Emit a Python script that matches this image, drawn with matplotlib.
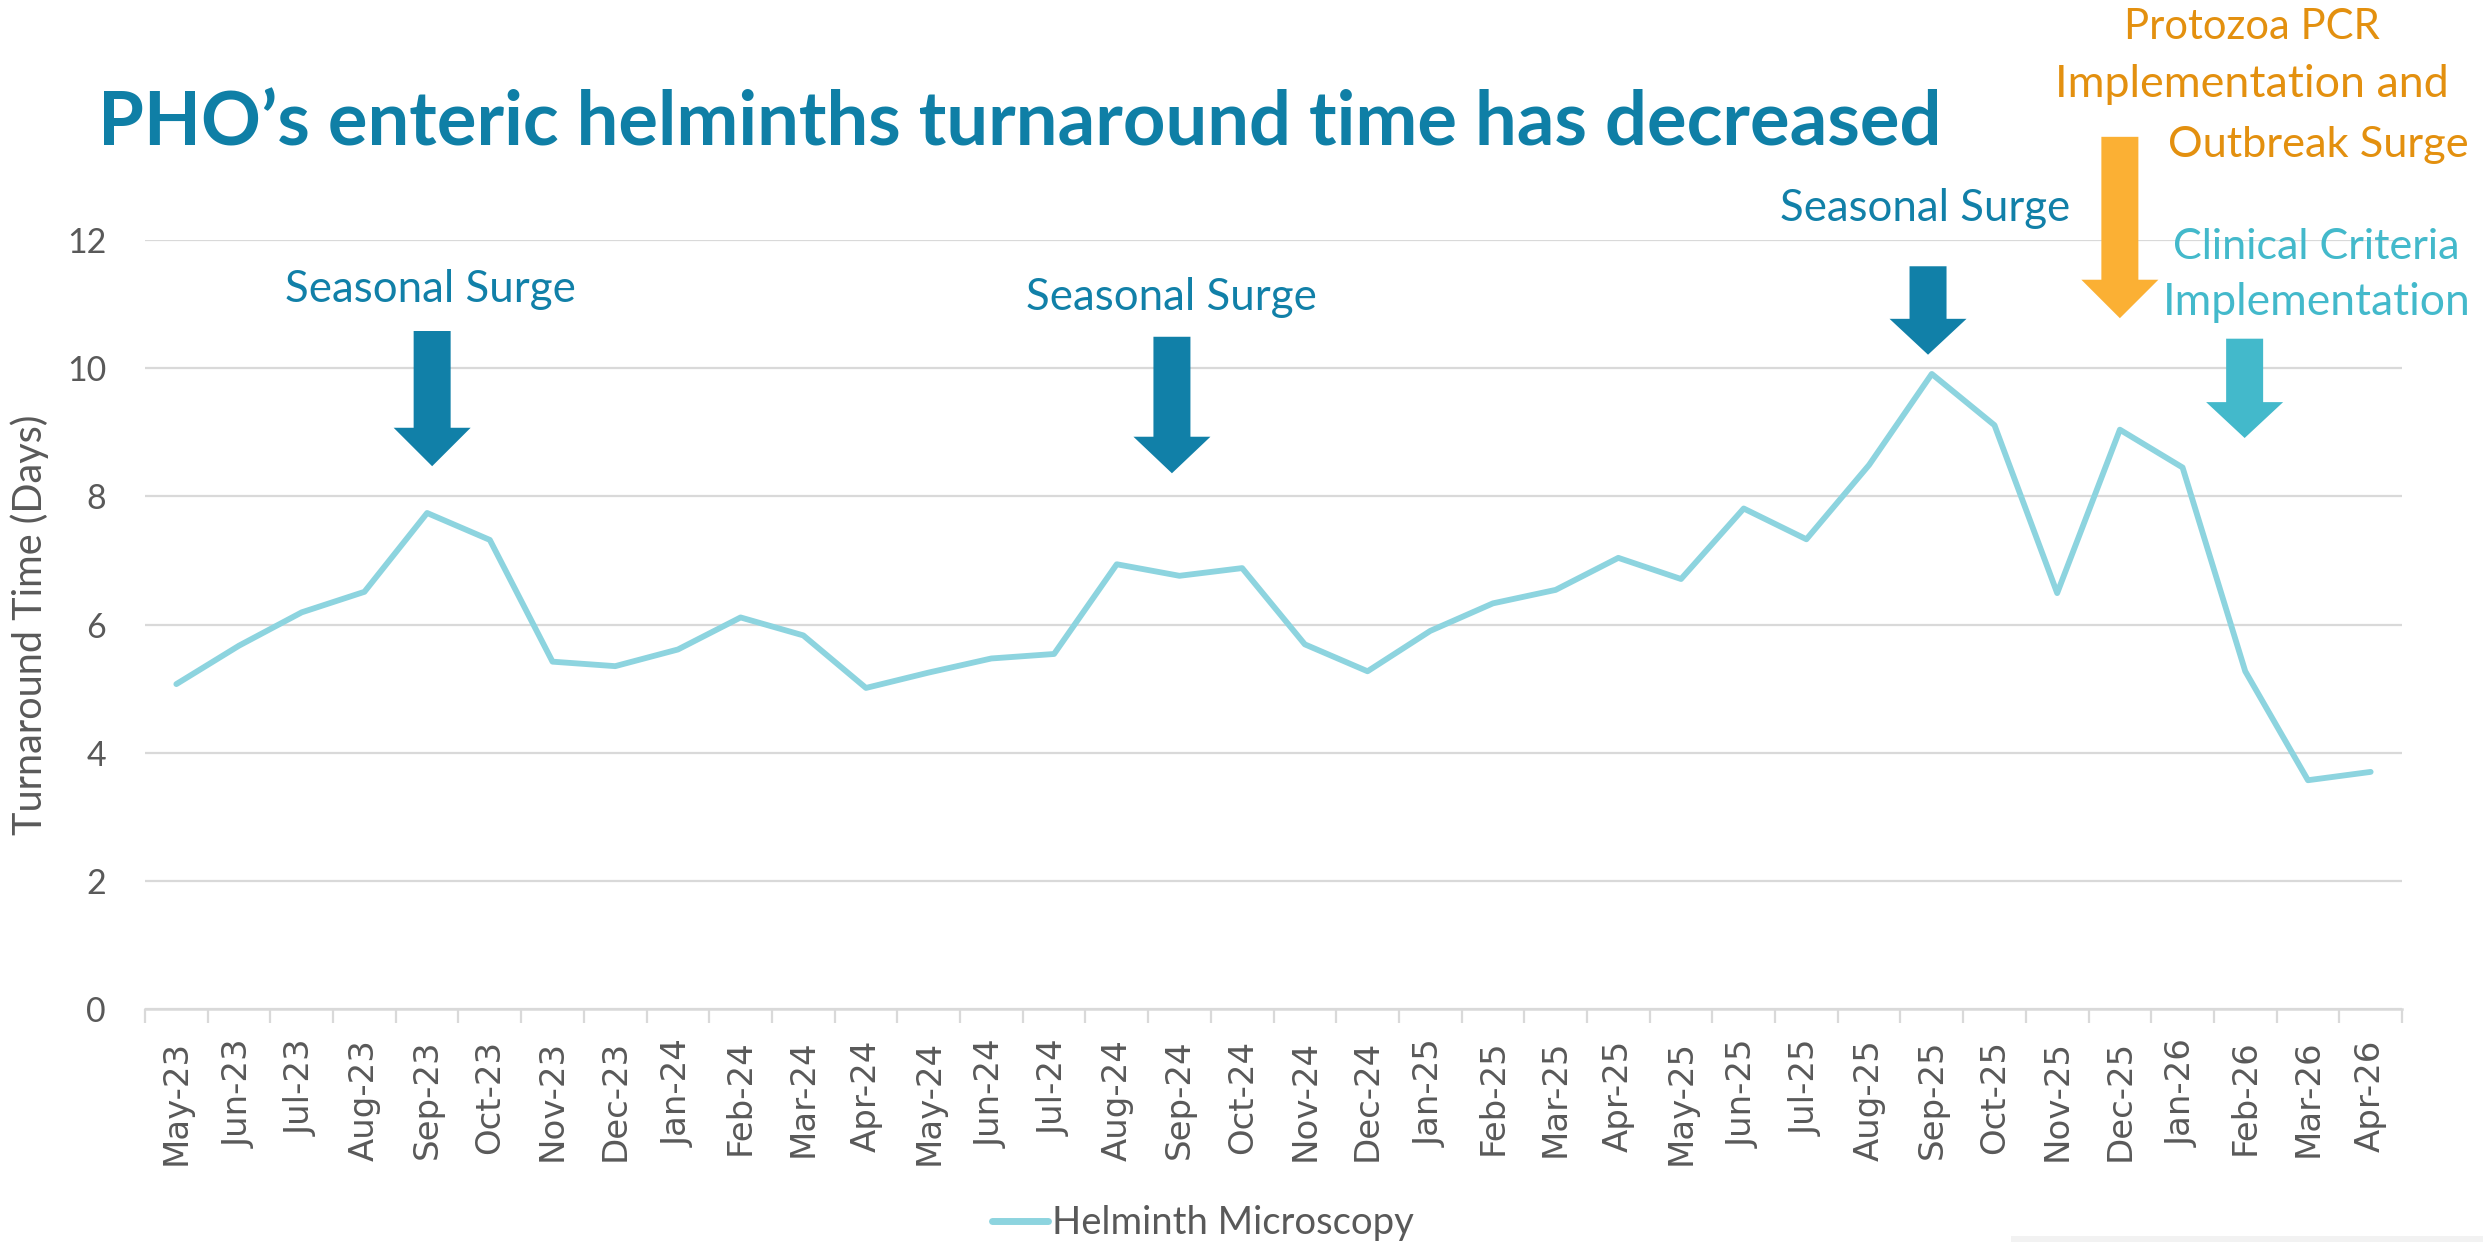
import matplotlib
matplotlib.use("Agg")
import matplotlib.pyplot as plt
from matplotlib.patches import Polygon, Rectangle

# ---------------- data ----------------
months = ["May-23", "Jun-23", "Jul-23", "Aug-23", "Sep-23", "Oct-23", "Nov-23", "Dec-23",
          "Jan-24", "Feb-24", "Mar-24", "Apr-24", "May-24", "Jun-24", "Jul-24", "Aug-24",
          "Sep-24", "Oct-24", "Nov-24", "Dec-24", "Jan-25", "Feb-25", "Mar-25", "Apr-25",
          "May-25", "Jun-25", "Jul-25", "Aug-25", "Sep-25", "Oct-25", "Nov-25", "Dec-25",
          "Jan-26", "Feb-26", "Mar-26", "Apr-26"]
helminth = [5.07, 5.67, 6.19, 6.51, 7.74, 7.32, 5.42, 5.35, 5.61, 6.11, 5.83, 5.01,
            5.25, 5.47, 5.54, 6.94, 6.76, 6.88, 5.69, 5.27, 5.90, 6.33, 6.54, 7.04,
            6.71, 7.81, 7.33, 8.49, 9.91, 9.11, 6.49, 9.04, 8.45, 5.27, 3.57, 3.70]
yticks = [0, 2, 4, 6, 8, 10, 12]

title = "PHO\u2019s enteric helminths turnaround time has decreased"
ylabel = "Turnaround Time (Days)"
series_name = "Helminth Microscopy"

# annotation arrows: x centre (category index), top, head base, tip (days)
arrow_x = [4.08, 15.88, 27.94, 31.0, 32.99]
arrow_top = [10.58, 10.49, 11.59, 13.61, 10.46]
arrow_base = [9.07, 8.93, 10.77, 11.38, 9.47]
arrow_tip = [8.47, 8.36, 10.21, 10.78, 8.91]

# ---------------- style ----------------
C_TITLE = "#0F7FA6"
C_SEASON = "#1180A8"
C_ORANGE_ARROW = "#FBB034"
C_ORANGE_TEXT = "#E3900F"
C_CLIN = "#43B9CB"
C_LINE = "#8DD4DF"
C_GRID = "#D9D9D9"
C_TEXT = "#595959"
FONT = ["Lato", "DejaVu Sans"]

W, H = 2483, 1242
fig = plt.figure(figsize=(W / 100, H / 100), dpi=100)
ax = fig.add_axes([145 / W, 1 - 1009 / H, (2402 - 145) / W, (1009 - 240) / H])

x = list(range(len(months)))
ax.plot(x, helminth, color=C_LINE, lw=4.2, solid_joinstyle="round",
        solid_capstyle="round", label=series_name, zorder=3)

ax.set_xlim(-0.5, len(months) - 0.5)
ax.set_ylim(0, 12)
ax.set_yticks(yticks)
ax.set_yticklabels([str(t) for t in yticks], fontsize=24.5, color=C_TEXT, family=FONT)
ax.tick_params(axis="y", length=0, pad=28)
ax.grid(axis="y", color=C_GRID, lw=1.6, zorder=0)
ax.set_axisbelow(True)

ax.set_xticks(x)
ax.set_xticklabels(months, rotation=90, fontsize=24.5, color=C_TEXT, family="DejaVu Sans")
ax.tick_params(axis="x", which="major", length=0, pad=22)
ax.set_xticks([i - 0.5 for i in range(len(months) + 1)], minor=True)
ax.tick_params(axis="x", which="minor", length=10, width=1.6, color=C_GRID)

for s in ["top", "right", "left"]:
    ax.spines[s].set_visible(False)
ax.spines["bottom"].set_color(C_GRID)
ax.spines["bottom"].set_linewidth(1.8)

ax.set_ylabel(ylabel, fontsize=28.5, color=C_TEXT, family=FONT)
ax.yaxis.label.set_va("center")
ax.yaxis.set_label_coords((30 - 145) / (2402 - 145), 0.5)

# arrows
sw, hw = 18.5 / 62.7, 38.5 / 62.7
arrow_colors = [C_SEASON, C_SEASON, C_SEASON, C_ORANGE_ARROW, C_CLIN]
for xc, t, b, tip, col in zip(arrow_x, arrow_top, arrow_base, arrow_tip, arrow_colors):
    verts = [(xc - sw, t), (xc + sw, t), (xc + sw, b), (xc + hw, b), (xc, tip),
             (xc - hw, b), (xc - sw, b)]
    ax.add_patch(Polygon(verts, closed=True, facecolor=col, edgecolor="none",
                         clip_on=False, zorder=4))

texts = []
def add_text(xd, yd, s, color, width_px):
    t = ax.text(xd, yd, s, color=color, fontsize=33, family=FONT, ha="center",
                va="baseline", clip_on=False, zorder=5)
    texts.append((t, width_px))
    return t

add_text(4.06, 11.03, "Seasonal Surge", C_SEASON, 291)
add_text(15.88, 10.90, "Seasonal Surge", C_SEASON, 291)
add_text(27.89, 12.30, "Seasonal Surge", C_SEASON, 290)
add_text(33.10, 15.14, "Protozoa PCR", C_ORANGE_TEXT, 256)
add_text(33.10, 14.23, "Implementation and", C_ORANGE_TEXT, 395)
add_text(34.16, 13.30, "Outbreak Surge", C_ORANGE_TEXT, 302)
add_text(34.14, 11.70, "Clinical Criteria", C_CLIN, 288)
add_text(34.14, 10.83, "Implementation", C_CLIN, 308)

ttl = fig.text(98 / W, 1 - 145 / H, title, color=C_TITLE, fontsize=50,
               fontweight="bold", family=FONT, ha="left", va="baseline")
texts.append((ttl, 1847))

leg = ax.legend(loc="center", bbox_to_anchor=(1203 / W, 1 - 1223 / H),
                bbox_transform=fig.transFigure, frameon=False,
                prop={"family": FONT, "size": 27.5}, handlelength=1.45,
                handletextpad=0.1, labelcolor=C_TEXT)
for h in leg.get_lines():
    h.set_linewidth(5)

fig.patches.append(Rectangle((2011 / W, 0), (W - 2011) / W, 6 / H,
                             transform=fig.transFigure, facecolor="#F2F2F2",
                             edgecolor="none"))

# fit text widths to reference
fig.canvas.draw()
r = fig.canvas.get_renderer()
for t, wpx in texts:
    w = t.get_window_extent(r).width
    t.set_fontsize(t.get_fontsize() * wpx / w)

fig.savefig("out.png", dpi=100, facecolor="white")
